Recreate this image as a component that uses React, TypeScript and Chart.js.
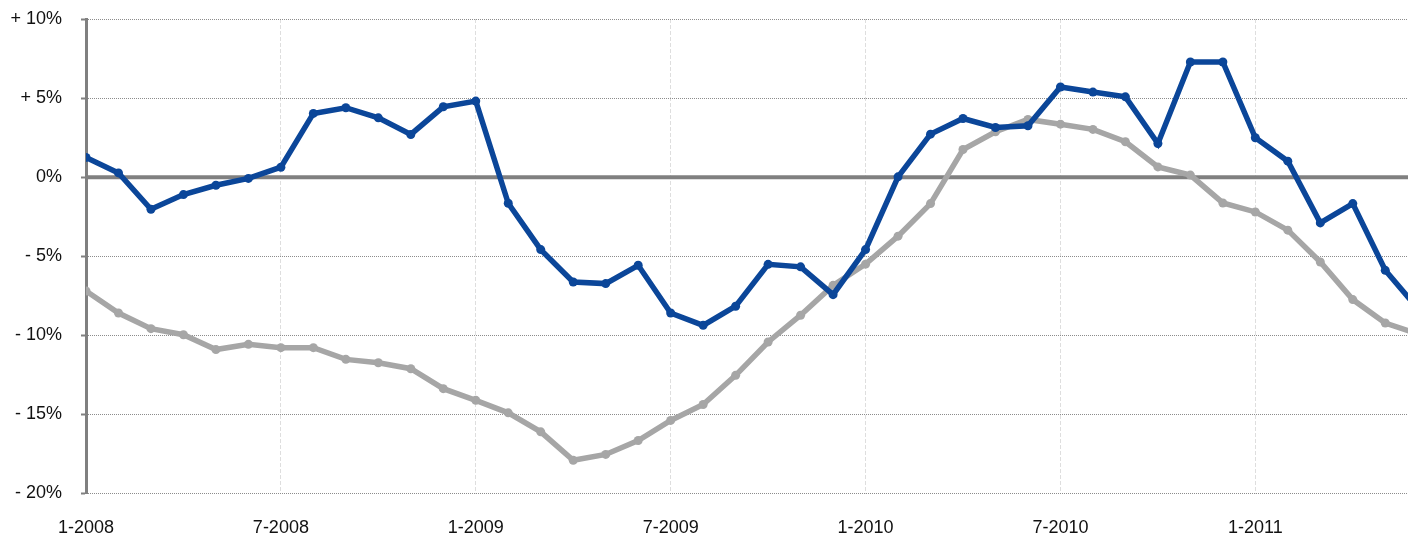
import React, { useEffect, useRef } from "react";
import { Chart, registerables } from "chart.js";

Chart.register(...registerables);

// Monthly index: 0 = 1-2008 ... 41 = 6-2011
const blueSeries = [1.25, 0.27, -2.03, -1.1, -0.51, -0.08, 0.63, 4.03, 4.39, 3.75, 2.7, 4.45, 4.81, -1.65, -4.58, -6.63, -6.73, -5.57, -8.59, -9.37, -8.16, -5.51, -5.67, -7.43, -4.58, 0.02, 2.72, 3.71, 3.14, 3.25, 5.7, 5.38, 5.08, 2.13, 7.28, 7.28, 2.49, 1.01, -2.89, -1.67, -5.89, -8.3];
const graySeries = [-7.2, -8.59, -9.58, -9.96, -10.9, -10.57, -10.78, -10.78, -11.52, -11.73, -12.11, -13.37, -14.11, -14.9, -16.1, -17.9, -17.53, -16.65, -15.38, -14.37, -12.53, -10.42, -8.73, -6.84, -5.5, -3.73, -1.67, 1.75, 2.87, 3.65, 3.35, 3.02, 2.24, 0.65, 0.13, -1.63, -2.2, -3.35, -5.36, -7.74, -9.22, -9.9];

const xTickMonths = [0, 6, 12, 18, 24, 30, 36];
const xTickLabels = ["1-2008", "7-2008", "1-2009", "7-2009", "1-2010", "7-2010", "1-2011"];

const yTickValues = [10, 5, 0, -5, -10, -15, -20];
const yTickLabels = ["+ 10%", "+ 5%", "0%", "- 5%", "- 10%", "- 15%", "- 20%"];

const BLUE = "#0B4699";
const GRAY = "#A6A6A6";
const AXIS = "#808080";

export default function App() {
  const ref = useRef<HTMLCanvasElement | null>(null);

  useEffect(() => {
    if (!ref.current) return;
    const toPts = (arr: number[]) => arr.map((v, i) => ({ x: i, y: v }));
    const chart = new Chart(ref.current, {
      type: "line",
      data: {
        datasets: [
          {
            data: toPts(blueSeries),
            borderColor: BLUE,
            backgroundColor: BLUE,
            borderWidth: 5.5,
            pointRadius: 4.5,
            pointBorderWidth: 0,
            pointBackgroundColor: BLUE,
            tension: 0,
          },
          {
            data: toPts(graySeries),
            borderColor: GRAY,
            backgroundColor: GRAY,
            borderWidth: 5.5,
            pointRadius: 4.5,
            pointBorderWidth: 0,
            pointBackgroundColor: GRAY,
            tension: 0,
          },
          {
            data: [
              { x: 0, y: 0 },
              { x: graySeries.length, y: 0 },
            ],
            borderColor: AXIS,
            borderWidth: 4,
            pointRadius: 0,
          },
        ],
      },
      options: {
        responsive: false,
        animation: false,
        layout: { autoPadding: false, padding: { top: 19, right: 0, left: 0, bottom: 0 } },
        plugins: { legend: { display: false }, tooltip: { enabled: false } },
        scales: {
          x: {
            type: "linear",
            min: 0,
            max: 40.7,
            afterBuildTicks: (scale: any) => {
              scale.ticks = xTickMonths.map((v) => ({ value: v }));
            },
            afterFit: (scale: any) => {
              scale.height = 41.5;
              scale.paddingLeft = 0;
              scale.paddingRight = 0;
            },
            ticks: {
              padding: 24,
              maxRotation: 0,
              autoSkip: false,
              color: "#111",
              font: { family: "'Liberation Sans', Arial, sans-serif", size: 18 },
              callback: (v: any) => {
                const i = xTickMonths.indexOf(Number(v));
                return i >= 0 ? xTickLabels[i] : "";
              },
            },
            grid: {
              color: "rgba(0,0,0,0.13)",
              lineWidth: 1,
              drawTicks: false,
            },
            border: { display: false, dash: [4, 2] },
          },
          y: {
            type: "linear",
            min: -20,
            max: 10,
            afterBuildTicks: (scale: any) => {
              scale.ticks = yTickValues.map((v) => ({ value: v }));
            },
            afterFit: (scale: any) => {
              scale.width = 86;
              scale.paddingTop = 0;
              scale.paddingBottom = 0;
            },
            ticks: {
              padding: 19,
              color: "#111",
              font: { family: "'Liberation Sans', Arial, sans-serif", size: 18 },
              callback: (v: any) => {
                const i = yTickValues.indexOf(Number(v));
                return i >= 0 ? yTickLabels[i] : "";
              },
            },
            grid: {
              color: "#8c8c8c",
              lineWidth: 1,
              tickLength: 5,
              tickColor: AXIS,
              tickWidth: 2,
            },
            border: { display: true, color: AXIS, width: 3, dash: [1, 1] },
          },
        },
      },
    });
    return () => chart.destroy();
  }, []);

  return (
    <div style={{ position: "fixed", left: 0, top: 0, width: 1408, height: 535, background: "#fff" }}>
      <canvas ref={ref} width={1408} height={535} style={{ display: "block" }} />
    </div>
  );
}
